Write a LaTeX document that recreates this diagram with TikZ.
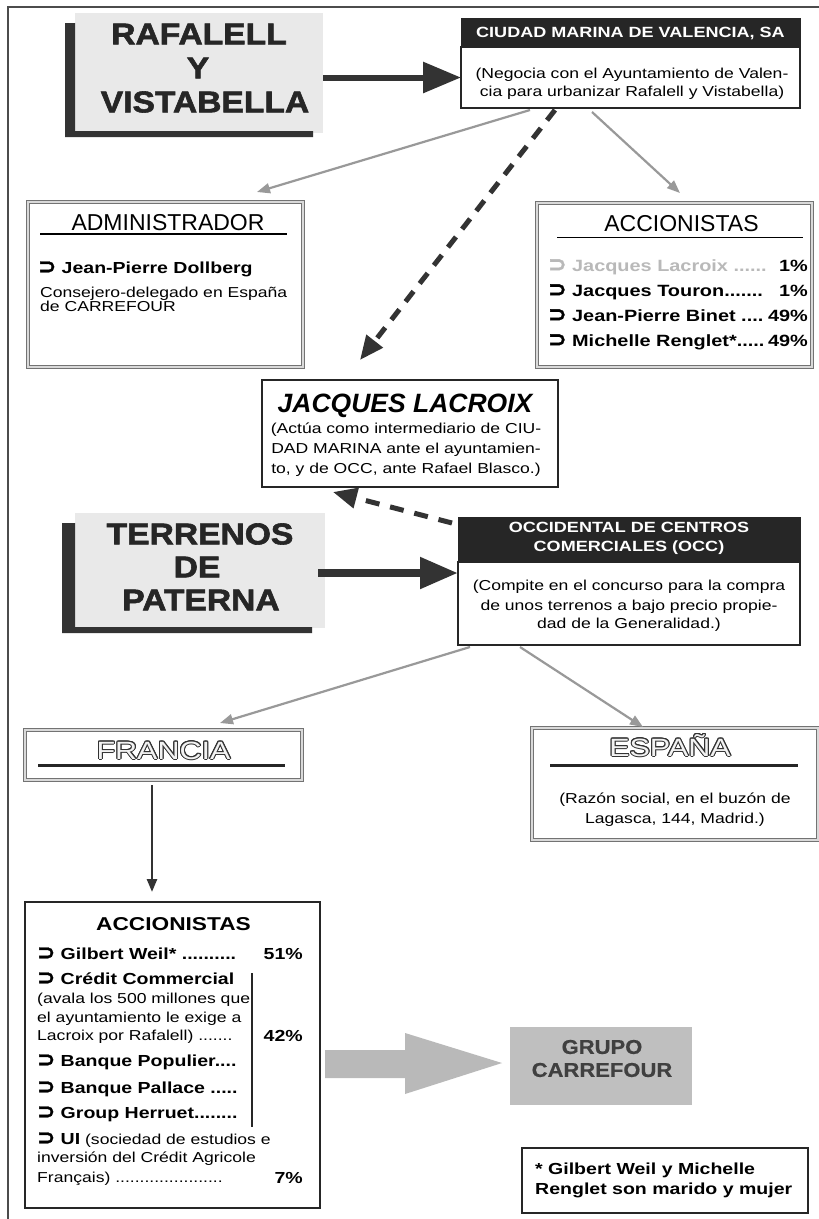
\documentclass[tikz,border=0pt]{standalone}
\usepackage{fontspec}
\usepackage{graphicx}
\setmainfont{Liberation Sans}
\newfontfamily\bodyf[FakeStretch=1.22]{Liberation Sans}
\newfontfamily\blackf[FakeStretch=1.12, FakeBold=2]{Liberation Sans Bold}
\newfontfamily\boldwf[FakeStretch=1.1, FakeBold=0.6]{Liberation Sans Bold}
\newfontfamily\symf[FakeBold=1.5]{DejaVu Sans}
\usepackage[copies]{contour}
\contourlength{1pt}
\usetikzlibrary{arrows.meta,calc}
\newcommand\hooksym{\raisebox{-0.04em}{\scalebox{1.35}{\symf\char"2283}}}
\newcommand\mkbox[6]{\node[#2, minimum width={(#5-#3)*1pt}, minimum height={(#6-#4)*1pt}, inner sep=0pt, outer sep=0pt] (#1) at ({(#3+#5)/2},{(#4+#6)/2}) {};}
\begin{document}
\begin{tikzpicture}[x=1pt,y=-1pt]
\tikzset{
  framel/.style={draw=black!70, line width=1.2pt},
  hdr/.style={fill=black!85, draw=black!85},
  thinbox/.style={draw=black!85, line width=1.1pt, fill=white},
  grbox/.style={draw=black!55, double=gray!30, double distance=1.6pt, line width=0.9pt},
  shadebox/.style={fill=gray!17},
  lbar/.style={fill=black!80},
  txt/.style={inner sep=0pt, anchor=base},
  bigt/.style={txt, font={\blackf\fontsize{30}{34}\selectfont}, text=black!85},
  hdrt/.style={txt, font={\bodyf\bfseries\fontsize{14.8}{17}\selectfont}, text=white},
  body/.style={txt, font={\bodyf\fontsize{14.4}{17}\selectfont}},
  itemb/.style={txt, font={\bodyf\bfseries\fontsize{16}{19}\selectfont}},
  itembt/.style={txt, font={\bodyf\bfseries\fontsize{16.3}{19}\selectfont}},
  boxtitle/.style={txt, font={\fontsize{23}{26}\selectfont}},
  outl/.style={txt, font={\bodyf\fontsize{25}{28}\selectfont}, text=gray!10},
  uline/.style={draw=black, line width=1.2pt},
  thickuline/.style={draw=black!85, line width=3pt},
  bigarrow/.style={draw=black!80, line width=6pt, -{Triangle[length=38pt, width=30pt]}},
  dasharrow/.style={draw=black!80, line width=5pt, dash pattern=on 13pt off 10pt, -{Triangle[length=24pt, width=20pt]}},
  grayarrow/.style={draw=black!40, line width=2.2pt, -{Triangle[length=13pt, width=10pt]}},
  downarrow/.style={draw=black!80, line width=2.5pt, -{Triangle[length=13pt, width=10pt]}},
  blockarrow/.style={fill=gray!55},
}
\useasboundingbox (0,0) rectangle (819,1219);
\fill[white] (0,0) rectangle (819,1219);

% outer frame
\coordinate (fr1) at (8,1219);
\coordinate (fr2) at (8,7);
\coordinate (fr3) at (819,7);
\draw[framel] (fr1) -- (fr2) -- (fr3);

% RAFALELL Y VISTABELLA
\mkbox{raf}{shadebox}{75}{13}{323}{133}
\fill[lbar] (65,23) -- (75,23) -- (75,131) -- (313,131) -- (313,137) -- (65,137) -- cycle;
\node[bigt, anchor=center] (raf1) at (199,34) {RAFALELL};
\node[bigt, anchor=center] (raf2) at (198,68) {Y};
\node[bigt, anchor=center] (raf3) at (205,102) {VISTABELLA};

% CIUDAD MARINA
\mkbox{cmh}{hdr}{461}{18}{800}{47}
\node[hdrt] (cmht) at (630.5,37.5) {CIUDAD MARINA DE VALENCIA, SA};
\mkbox{cmb}{thinbox}{461}{47}{800}{108}
\node[body] (cmb1) at (632,78) {(Negocia con el Ayuntamiento de Valen-};
\node[body] (cmb2) at (632,96.5) {cia para urbanizar Rafalell y Vistabella)};

\draw[bigarrow] (raf.east |- cmb.west) -- (cmb.west);

% ADMINISTRADOR
\mkbox{adm}{grbox}{28}{202}{303}{367}
\node[boxtitle] (admt) at (168,230) {ADMINISTRADOR};
\draw[uline] (40,234) -- (287,234);
\node[itemb, anchor=base west] (adm1) at (38,273) {\hooksym\ Jean-Pierre Dollberg};
\node[body, anchor=base west] (adm2) at (40,297) {Consejero-delegado en España};
\node[body, anchor=base west] (adm3) at (40,311.5) {de CARREFOUR};

% ACCIONISTAS (top)
\mkbox{acc}{grbox}{537}{203}{812}{367}
\node[boxtitle] (acct) at (681.5,231) {ACCIONISTAS};
\draw[uline] (557,237.5) -- (803,237.5);
\node[itembt, anchor=base west, text=gray!55] (acc1) at (548,271) {\hooksym\ Jacques Lacroix ......};
\node[itembt, anchor=base east, text=black] (acc1p) at (808,271) {1\%};
\node[itembt, anchor=base west] (acc2) at (548,296) {\hooksym\ Jacques Touron.......};
\node[itembt, anchor=base east] (acc2p) at (808,296) {1\%};
\node[itembt, anchor=base west] (acc3) at (548,321) {\hooksym\ Jean-Pierre Binet ....};
\node[itembt, anchor=base east] (acc3p) at (808,321) {49\%};
\node[itembt, anchor=base west] (acc4) at (548,346) {\hooksym\ Michelle Renglet*.....};
\node[itembt, anchor=base east] (acc4p) at (808,346) {49\%};

% gray arrows from Ciudad Marina
\coordinate (g1s) at (530,110);
\coordinate (g1e) at (257,192);
\coordinate (g2s) at (592,112);
\coordinate (g2e) at (680,193);
\draw[grayarrow] (g1s) -- (g1e);
\draw[grayarrow] (g2s) -- (g2e);

% JACQUES LACROIX
\mkbox{lac}{thinbox}{262}{380}{558}{487}
\node[txt, font={\bfseries\itshape\fontsize{26.5}{30}\selectfont}] (lact) at (405,412.5) {JACQUES LACROIX};
\node[body] (lac1) at (406,433) {(Actúa como intermediario de CIU-};
\node[body] (lac2) at (406,453) {DAD MARINA ante el ayuntamien-};
\node[body] (lac3) at (406,473) {to, y de OCC, ante Rafael Blasco.)};

\coordinate (d1s) at (555,110);
\coordinate (d1e) at (360,360);
\draw[dasharrow] (d1s) -- (d1e);

% TERRENOS DE PATERNA
\mkbox{ter}{shadebox}{75}{513}{325}{628}
\fill[lbar] (62,523) -- (75,523) -- (75,627) -- (312,627) -- (312,633) -- (62,633) -- cycle;
\node[bigt, anchor=center] (ter1) at (200,534) {TERRENOS};
\node[bigt, anchor=center] (ter2) at (197,567) {DE};
\node[bigt, anchor=center] (ter3) at (201,600) {PATERNA};

% OCC
\mkbox{occh}{hdr}{458}{517}{800}{562}
\node[hdrt] (occh1) at (629,532.5) {OCCIDENTAL DE CENTROS};
\node[hdrt] (occh2) at (629,551) {COMERCIALES (OCC)};
\mkbox{occb}{thinbox}{458}{562}{800}{645}
\node[body] (occb1) at (629,590.5) {(Compite en el concurso para la compra};
\node[body] (occb2) at (629,610) {de unos terrenos a bajo precio propie-};
\node[body] (occb3) at (629,628) {dad de la Generalidad.)};

\coordinate (t1) at (318,573);
\draw[bigarrow, line width=8pt] (t1) -- (t1 -| occb.west);

\coordinate (d2s) at (452,523);
\coordinate (d2e) at (333,492);
\draw[dasharrow, dash pattern=on 14pt off 11pt] (d2s) -- (d2e);

% FRANCIA
\mkbox{fra}{grbox}{25}{730}{302}{780}
\node[outl] (frat) at (163.5,759) {\contour{black!80}{FRANCIA}};
\draw[thickuline] (38,765.5) -- (285,765.5);

% ESPAÑA
\mkbox{esp}{grbox}{532}{728}{818}{840}
\node[outl] (espt) at (670,756) {\contour{black!80}{ESPAÑA}};
\draw[thickuline] (550,765.5) -- (798,765.5);
\node[body] (esp1) at (675,803) {(Razón social, en el buzón de};
\node[body] (esp2) at (675,823) {Lagasca, 144, Madrid.)};

\coordinate (g3s) at (470,647);
\coordinate (g3e) at (220,723);
\coordinate (g4s) at (520,647);
\coordinate (g4e) at (643,727);
\draw[grayarrow] (g3s) -- (g3e);
\draw[grayarrow] (g4s) -- (g4e);

% ACCIONISTAS (bottom)
\mkbox{accb}{thinbox}{25}{902}{320}{1208}
\node[txt, font={\bodyf\bfseries\fontsize{18.6}{22}\selectfont}] (accbt) at (173.5,930) {ACCIONISTAS};
\node[itemb, anchor=base west] (b1) at (37,959) {\hooksym\ Gilbert Weil* ..........};
\node[itemb, anchor=base east] (b1p) at (303,959) {51\%};
\node[itemb, anchor=base west] (b2) at (37,984) {\hooksym\ Crédit Commercial};
\node[body, anchor=base west] (b2a) at (37,1003.5) {(avala los 500 millones que};
\node[body, anchor=base west] (b2b) at (37,1022) {el ayuntamiento le exige a};
\node[body, anchor=base west] (b2c) at (37,1040.5) {Lacroix por Rafalell) .......};
\node[itemb, anchor=base east] (b2p) at (303,1041) {42\%};
\node[itemb, anchor=base west] (b3) at (37,1066) {\hooksym\ Banque Populier....};
\node[itemb, anchor=base west] (b4) at (37,1093) {\hooksym\ Banque Pallace .....};
\node[itemb, anchor=base west] (b5) at (37,1118) {\hooksym\ Group Herruet........};
\node[body, anchor=base west] (b6) at (37,1144) {{\bfseries\fontsize{16}{19}\selectfont\hooksym\ UI} (sociedad de estudios e};
\node[body, anchor=base west] (b6a) at (37,1162) {inversión del Crédit Agricole};
\node[body, anchor=base west] (b6b) at (37,1182) {Français) ......................};
\node[itemb, anchor=base east] (b6p) at (303,1183) {7\%};
\coordinate (bar1) at (252,973);
\coordinate (bar2) at (252,1127);
\draw[line width=2.5pt, black!85] (bar1) -- (bar2);

% arrow Francia -> Accionistas
\coordinate (fa1) at (152,785);
\coordinate (fa2) at (152,892);
\draw[downarrow] (fa1) -- (fa2);

% GRUPO CARREFOUR
\mkbox{carr}{fill=gray!50}{510}{1027}{692}{1105}
\node[txt, font={\boldwf\fontsize{20}{23}\selectfont}, text=black!75, anchor=center] (carr1) at (602,1047) {GRUPO};
\node[txt, font={\boldwf\fontsize{20}{23}\selectfont}, text=black!75, anchor=center] (carr2) at (602,1070) {CARREFOUR};

\coordinate (bs) at (accb.east |- 0,1064);
\coordinate (be) at (carr.west |- 0,1063);
\fill[blockarrow] ($(bs)+(5,-14)$) -- ($(bs)+(85,-14)$) -- ($(bs)+(85,-31)$) -- ($(be)+(-8,0)$) -- ($(bs)+(85,30)$) -- ($(bs)+(85,14)$) -- ($(bs)+(5,14)$) -- cycle;

% footnote
\mkbox{foot}{thinbox}{522}{1148}{808}{1213}
\node[itemb, anchor=base west] (f1) at (535,1174) {* Gilbert Weil y Michelle};
\node[itemb, anchor=base west] (f2) at (535,1194) {Renglet son marido y mujer};
\end{tikzpicture}
\end{document}
